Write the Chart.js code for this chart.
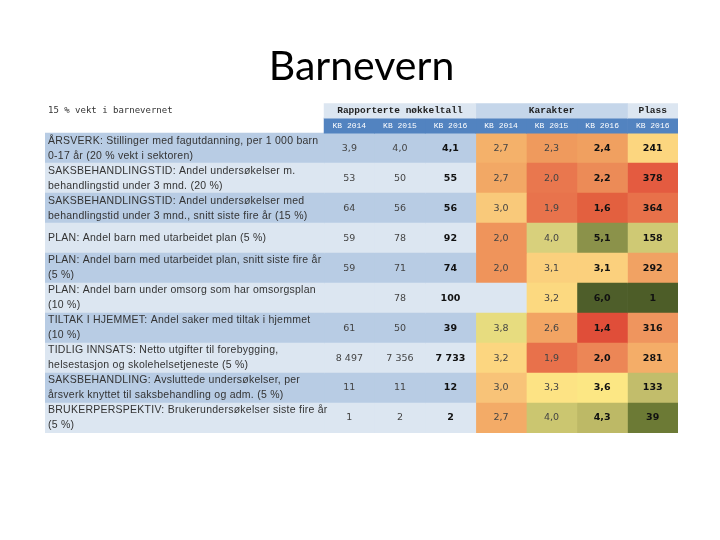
<!DOCTYPE html>
<html>
<head>
<meta charset="utf-8">
<script src="https://cdn.jsdelivr.net/npm/chart.js@4.4.0/dist/chart.umd.min.js"></script>
<style>
  body { margin: 0; background: #fff; }
</style>
</head>
<body>
<canvas id="tabell" width="720" height="540"></canvas>
<script>
// Tabell: nøkkeltall, karakter og plass for barnevern
const radEtiketter = [
    ['ÅRSVERK: Stillinger med fagutdanning, per 1 000 barn', '0-17 år (20 % vekt i sektoren)'],
    ['SAKSBEHANDLINGSTID: Andel undersøkelser m.', 'behandlingstid under 3 mnd. (20 %)'],
    ['SAKSBEHANDLINGSTID: Andel undersøkelser med', 'behandlingstid under 3 mnd., snitt siste fire år (15 %)'],
    ['PLAN: Andel barn med utarbeidet plan (5 %)'],
    ['PLAN: Andel barn med utarbeidet plan, snitt siste fire år', '(5 %)'],
    ['PLAN: Andel barn under omsorg som har omsorgsplan', '(10 %)'],
    ['TILTAK I HJEMMET: Andel saker med tiltak i hjemmet', '(10 %)'],
    ['TIDLIG INNSATS: Netto utgifter til forebygging,', 'helsestasjon og skolehelsetjeneste (5 %)'],
    ['SAKSBEHANDLING: Avsluttede undersøkelser, per', 'årsverk knyttet til saksbehandling og adm. (5 %)'],
    ['BRUKERPERSPEKTIV: Brukerundersøkelser siste fire år', '(5 %)']
];
const overskrift = '15 % vekt i barnevernet';
const grupper = ['Rapporterte nøkkeltall', 'Karakter', 'Plass'];
const gruppeKolonner = [3, 3, 1];
const kolonner = ['KB 2014', 'KB 2015', 'KB 2016', 'KB 2014', 'KB 2015', 'KB 2016', 'KB 2016'];

// rapporterte nøkkeltall
const nokkel2014 = [3.9, 53, 64, 59, 59, null, 61, 8497, 11, 1];
const nokkel2015 = [4.0, 50, 56, 78, 71, 78, 50, 7356, 11, 2];
const nokkel2016 = [4.1, 55, 56, 92, 74, 100, 39, 7733, 12, 2];
const desimaler  = [1, 0, 0, 0, 0, 0, 0, 0, 0, 0];

// karakter og plass
const karakter2014 = [2.7, 2.7, 3.0, 2.0, 2.0, null, 3.8, 3.2, 3.0, 2.7];
const karakter2015 = [2.3, 2.0, 1.9, 4.0, 3.1, 3.2, 2.6, 1.9, 3.3, 4.0];
const karakter2016 = [2.4, 2.2, 1.6, 5.1, 3.1, 6.0, 1.4, 2.0, 3.6, 4.3];
const plass2016    = [241, 378, 364, 158, 292, 1, 316, 281, 133, 39];

// fargeskala (betinget formatering) per celle
const fargerK14 = ['#f4b16a', '#f2a865', '#f9c97a', '#ef945b', '#ef945b', null, '#e7dc7f', '#fcd680', '#f8c378', '#f3ab67'];
const fargerK15 = ['#ef9a5d', '#e9774e', '#e8734c', '#d8d07c', '#fbd07d', '#fcd980', '#f2a463', '#e8714b', '#fde384', '#cbc670'];
const fargerK16 = ['#f0a060', '#ec8b57', '#e3603f', '#8b924a', '#fbd07d', '#4e5e2a', '#e04e39', '#ec8656', '#fce784', '#bdb966'];
const fargerP16 = ['#fcd67f', '#e45b40', '#e8714a', '#cfc974', '#f1a263', '#4d5d28', '#ef955e', '#f4ad68', '#c2bd6b', '#6c7a35'];

const MORK = '#b8cce4';
const LYS = '#dce6f1';
const ETIKETT_BREDDE = 5.52; // etikettkolonnen målt i kolonnebredder

function tall(v, d) {
    if (v === null) return '';
    const s = v.toFixed(d).replace('.', ',');
    return s.replace(/\B(?=(\d{3})+(?!\d))/g, ' ');
}
const radFarge = i => (i % 2 === 0 ? MORK : LYS);
const tomRad = () => radEtiketter.map(() => null);

const kategorier = ['hode'].concat(radEtiketter.map((_, i) => 'rad' + (i + 1)));
const datasett = [];

// topp-overskrift
datasett.push({
    stack: 'topp', grouped: true,
    data: [[-ETIKETT_BREDDE, 0]].concat(tomRad()),
    backgroundColor: 'rgba(0,0,0,0)',
    tekster: [overskrift], venstre: true,
    tekstFont: '9px "DejaVu Sans Mono"', tekstFarge: '#333'
});
let start = 0;
grupper.forEach((g, gi) => {
    const slutt = start + gruppeKolonner[gi];
    datasett.push({
        stack: 'topp', grouped: true,
        data: [[start, slutt]].concat(tomRad()),
        backgroundColor: gi === 1 ? '#c5d6ea' : LYS,
        tekster: [g],
        tekstFont: 'bold 9.5px "Liberation Mono"', tekstFarge: '#222'
    });
    start = slutt;
});
// kolonneoverskrifter
kolonner.forEach((k, c) => {
    datasett.push({
        stack: 'bunn', grouped: true,
        data: [[c, c + 1]].concat(tomRad()),
        backgroundColor: '#5283c0',
        tekster: [k],
        tekstFont: '8px "Liberation Mono"', tekstFarge: '#fff'
    });
});

// etikettkolonne
datasett.push({
    grouped: false,
    data: [null].concat(radEtiketter.map(() => [-ETIKETT_BREDDE, 0])),
    backgroundColor: ['#fff'].concat(radEtiketter.map((_, i) => radFarge(i))),
    tekster: [null].concat(radEtiketter), venstre: true, linjeHoyde: 15,
    tekstFont: '10.5px "Liberation Sans"', tekstFarge: '#333', sperring: '0.25px'
});

// verdikolonner
const kolonneVerdier = [nokkel2014, nokkel2015, nokkel2016, karakter2014, karakter2015, karakter2016, plass2016];
const kolonneFarger = [null, null, null, fargerK14, fargerK15, fargerK16, fargerP16];
kolonneVerdier.forEach((verdier, c) => {
    const uthevet = c === 2 || c === 5 || c === 6;
    datasett.push({
        grouped: false,
        data: [null].concat(verdier.map(() => [c, c + 1])),
        backgroundColor: ['#fff'].concat(verdier.map((v, i) => {
            const f = kolonneFarger[c];
            return f && f[i] ? f[i] : radFarge(i);
        })),
        tekster: [null].concat(verdier.map((v, i) => {
            if (c < 3) return tall(v, desimaler[i]);
            if (c < 6) return tall(v, 1);
            return tall(v, 0);
        })),
        tekstFont: (uthevet ? 'bold ' : '') + '9.5px "DejaVu Sans"',
        tekstFarge: uthevet ? '#111' : '#444'
    });
});

const celleTekst = {
    id: 'celleTekst',
    afterDatasetsDraw(chart) {
        const ctx = chart.ctx;
        chart.data.datasets.forEach((ds, i) => {
            const meta = chart.getDatasetMeta(i);
            meta.data.forEach((bar, j) => {
                const t = ds.tekster[j];
                if (t === null || t === undefined || t === '') return;
                const p = bar.getProps(['x', 'y', 'base'], true);
                const linjer = Array.isArray(t) ? t : [t];
                const lh = ds.linjeHoyde || 12;
                ctx.save();
                ctx.font = ds.tekstFont;
                ctx.fillStyle = ds.tekstFarge;
                ctx.textBaseline = 'middle';
                if (ds.sperring) ctx.letterSpacing = ds.sperring;
                let tx;
                if (ds.venstre) {
                    ctx.textAlign = 'left';
                    tx = Math.min(p.x, p.base) + 3;
                } else {
                    ctx.textAlign = 'center';
                    tx = (p.x + p.base) / 2;
                }
                linjer.forEach((l, k) => {
                    ctx.fillText(l, tx, p.y + (k - (linjer.length - 1) / 2) * lh);
                });
                ctx.restore();
            });
        });
    }
};

new Chart(document.getElementById('tabell'), {
    type: 'bar',
    data: { labels: kategorier, datasets: datasett },
    options: {
        indexAxis: 'y',
        responsive: false,
        animation: false,
        events: [],
        skipNull: true,
        barPercentage: 1,
        categoryPercentage: 1,
        borderWidth: 0,
        layout: { padding: { top: 30, left: 45, right: 42, bottom: 107 } },
        scales: {
            x: { type: 'linear', min: -ETIKETT_BREDDE, max: 7, stacked: false, display: false },
            y: { type: 'category', display: false }
        },
        plugins: {
            legend: { display: false },
            tooltip: { enabled: false },
            title: {
                display: true,
                text: 'Barnevern',
                color: '#000',
                font: { family: 'Lato', size: 41, weight: 'normal' },
                padding: { top: 12, bottom: 12 }
            }
        }
    },
    plugins: [celleTekst]
});
</script>
</body>
</html>
